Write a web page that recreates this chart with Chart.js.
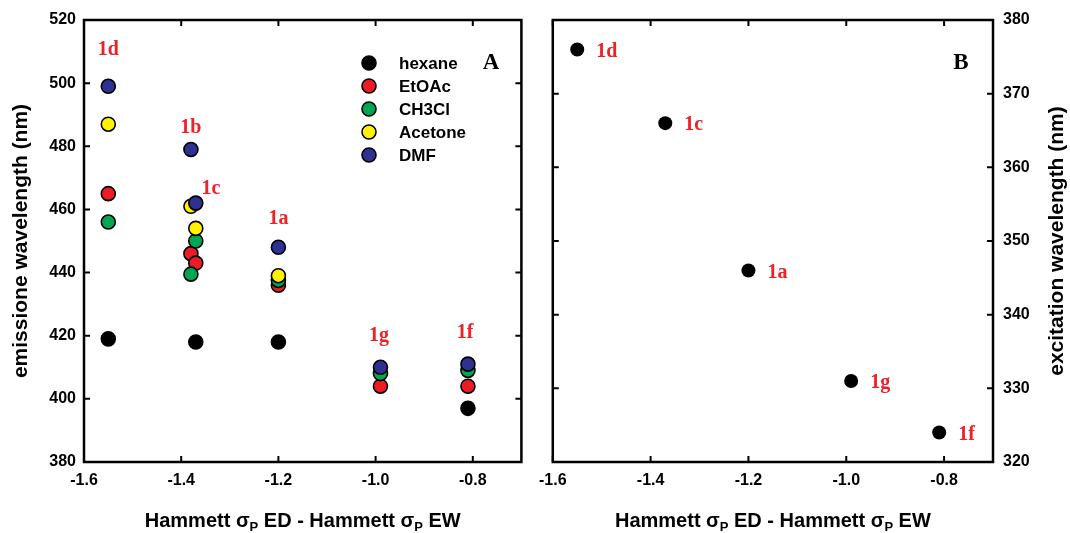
<!DOCTYPE html>
<html>
<head>
<meta charset="utf-8">
<script src="https://cdn.jsdelivr.net/npm/chart.js@4"></script>
<style>
  body { margin: 0; background: #fff; }
  #wrap { position: relative; width: 1070px; height: 533px; }
  canvas { position: absolute; top: 0; }
  #chartA { left: 0; }
  #chartB { left: 530px; }
</style>
</head>
<body>
<div id="wrap">
  <canvas id="chartA" width="530" height="533"></canvas>
  <canvas id="chartB" width="540" height="533"></canvas>
</div>
<script>
// panel A: emission wavelength vs Hammett difference
const hammett = [-1.55, -1.38, -1.37, -1.20, -0.99, -0.81];
const compounds = ['1d', '1b', '1c', '1a', '1g', '1f'];
const hexane  = [419, null, 418, 418, null, 397];
const etoac   = [465, 446, 443, 436, 404, 404];
const ch3cl   = [456, 439.5, 450, 437.5, 408, 409];
const acetone = [487, 461, 454, 439, null, null];
const dmf     = [499, 479, 462, 448, 410, 411];
const solvents = ['hexane', 'EtOAc', 'CH3Cl', 'Acetone', 'DMF'];

// where the compound names sit in panel A (data units)
const labelAx = [-1.55, -1.38, -1.339, -1.2, -0.993, -0.816];
const labelAy = [510.5, 486, 466.5, 457, 420, 421];

// panel B: excitation wavelength
const hammettB = [-1.55, -1.37, -1.20, -0.99, -0.81];
const compoundsB = ['1d', '1c', '1a', '1g', '1f'];
const excitation = [376, 366, 346, 331, 324];

const xTicks = [-1.6, -1.4, -1.2, -1.0, -0.8];
const yTicksA = [380, 400, 420, 440, 460, 480, 500, 520];
const yTicksB = [320, 330, 340, 350, 360, 370, 380];

const colors = ['#000000', '#ed1c24', '#00a651', '#fff200', '#2e3192'];
const SANS = "'Liberation Sans', Arial, sans-serif";
const SERIF = "'Liberation Serif', 'Times New Roman', serif";
const RED = '#ec2227';

function pts(xs, ys) {
  return xs.map((x, i) => ({ x: x, y: ys[i] })).filter(p => p.y !== null);
}

function setTicks(list) {
  return scale => { scale.ticks = list.map(v => ({ value: v })); };
}

function frame(chart) {
  const { ctx, chartArea: a, scales } = chart;
  ctx.save();
  ctx.strokeStyle = '#000';
  ctx.lineWidth = 2.5;
  ctx.strokeRect(a.left, a.top, a.right - a.left, a.bottom - a.top);
  ctx.lineWidth = 2;
  ctx.beginPath();
  scales.x.ticks.forEach(t => {
    const px = scales.x.getPixelForValue(t.value);
    ctx.moveTo(px, a.bottom); ctx.lineTo(px, a.bottom - 6);
    ctx.moveTo(px, a.top); ctx.lineTo(px, a.top + 6);
  });
  scales.y.ticks.forEach(t => {
    const py = scales.y.getPixelForValue(t.value);
    ctx.moveTo(a.left, py); ctx.lineTo(a.left + 6, py);
    ctx.moveTo(a.right, py); ctx.lineTo(a.right - 6, py);
  });
  ctx.stroke();
  ctx.restore();
}

function xTitle(ctx, cx, y) {
  const big = 'bold 20px ' + SANS, small = 'bold 13px ' + SANS;
  const parts = [['Hammett ', big, 0], ['\u03c3', big, 0], ['P', small, 6], [' ED - Hammett ', big, 0],
                 ['\u03c3', big, 0], ['P', small, 6], [' EW', big, 0]];
  ctx.save();
  ctx.fillStyle = '#000';
  ctx.textBaseline = 'middle';
  ctx.textAlign = 'left';
  let w = 0;
  parts.forEach(p => { ctx.font = p[1]; w += ctx.measureText(p[0]).width; });
  let x = cx - w / 2;
  parts.forEach(p => {
    ctx.font = p[1];
    ctx.fillText(p[0], x, y + p[2]);
    x += ctx.measureText(p[0]).width;
  });
  ctx.restore();
}

function yTitle(ctx, text, x, y) {
  ctx.save();
  ctx.translate(x, y);
  ctx.rotate(-Math.PI / 2);
  ctx.font = 'bold 21px ' + SANS;
  ctx.fillStyle = '#000';
  ctx.textAlign = 'center';
  ctx.textBaseline = 'middle';
  ctx.fillText(text, 0, 0);
  ctx.restore();
}

const tickFont = { family: SANS, size: 16, weight: 'bold' };

function baseOptions(yMin, yMax, yList, yPos, yWidth, padding) {
  return {
    responsive: false,
    animation: false,
    devicePixelRatio: 1,
    layout: { padding: padding },
    plugins: { legend: { display: false }, tooltip: { enabled: false } },
    scales: {
      x: {
        type: 'linear', min: -1.6, max: -0.7,
        afterBuildTicks: setTicks(xTicks),
        afterFit: s => { s.height = 71; },
        grid: { display: false, drawTicks: false }, border: { display: false },
        ticks: { color: '#000', font: tickFont, padding: 9, callback: v => v.toFixed(1) }
      },
      y: {
        type: 'linear', min: yMin, max: yMax, position: yPos,
        afterBuildTicks: setTicks(yList),
        afterFit: s => { s.width = yWidth; },
        grid: { display: false, drawTicks: false }, border: { display: false },
        ticks: { color: '#000', font: tickFont, padding: yPos === 'left' ? 8 : 10 }
      }
    }
  };
}

const seriesA = [hexane, etoac, ch3cl, acetone, dmf];

new Chart(document.getElementById('chartA'), {
  type: 'scatter',
  data: {
    datasets: seriesA.map((s, i) => ({
      label: solvents[i],
      data: pts(hammett, s),
      order: 5 - i,
      pointRadius: 7,
      pointBorderWidth: 1.6,
      pointBorderColor: '#000',
      pointBackgroundColor: colors[i]
    }))
  },
  options: baseOptions(380, 520, yTicksA, 'left', 84, { top: 20, right: 3, left: 0, bottom: 0 }),
  plugins: [{
    id: 'decorA',
    afterDraw(chart) {
      const { ctx, chartArea: a, scales } = chart;
      frame(chart);
      ctx.save();
      // compound labels
      ctx.font = 'bold 20px ' + SERIF;
      ctx.fillStyle = RED;
      ctx.textAlign = 'center';
      ctx.textBaseline = 'middle';
      compounds.forEach((c, i) => {
        ctx.fillText(c, scales.x.getPixelForValue(labelAx[i]), scales.y.getPixelForValue(labelAy[i]));
      });
      // legend
      ctx.font = 'bold 17px ' + SANS;
      ctx.textAlign = 'left';
      solvents.forEach((s, i) => {
        const y = 63 + i * 23;
        ctx.beginPath();
        ctx.arc(369, y, 7, 0, Math.PI * 2);
        ctx.fillStyle = colors[i];
        ctx.fill();
        ctx.lineWidth = 1.6;
        ctx.strokeStyle = '#000';
        ctx.stroke();
        ctx.fillStyle = '#000';
        ctx.fillText(s, 399, y + 1);
      });
      ctx.font = 'bold 23px ' + SERIF;
      ctx.textAlign = 'center';
      ctx.fillText('A', 491, 63);
      ctx.restore();
      xTitle(ctx, (a.left + a.right) / 2, 521);
      yTitle(ctx, 'emissione wavelength (nm)', 21, (a.top + a.bottom) / 2);
    }
  }]
});

new Chart(document.getElementById('chartB'), {
  type: 'scatter',
  data: {
    datasets: [{
      label: 'excitation',
      data: pts(hammettB, excitation),
      pointRadius: 7,
      pointBorderWidth: 0,
      pointBackgroundColor: '#000'
    }]
  },
  options: baseOptions(320, 380, yTicksB, 'right', 77, { top: 20, right: 0, left: 22, bottom: 0 }),
  plugins: [{
    id: 'decorB',
    afterDraw(chart) {
      const { ctx, chartArea: a } = chart;
      frame(chart);
      const meta = chart.getDatasetMeta(0);
      ctx.save();
      ctx.font = 'bold 20px ' + SERIF;
      ctx.fillStyle = RED;
      ctx.textAlign = 'left';
      ctx.textBaseline = 'middle';
      meta.data.forEach((el, i) => {
        ctx.fillText(compoundsB[i], el.x + 19, el.y + 2);
      });
      ctx.font = 'bold 23px ' + SERIF;
      ctx.fillStyle = '#000';
      ctx.textAlign = 'center';
      ctx.fillText('B', a.right - 32, 63);
      ctx.restore();
      xTitle(ctx, (a.left + a.right) / 2, 521);
      yTitle(ctx, 'excitation wavelength (nm)', 527, (a.top + a.bottom) / 2);
    }
  }]
});
</script>
</body>
</html>
